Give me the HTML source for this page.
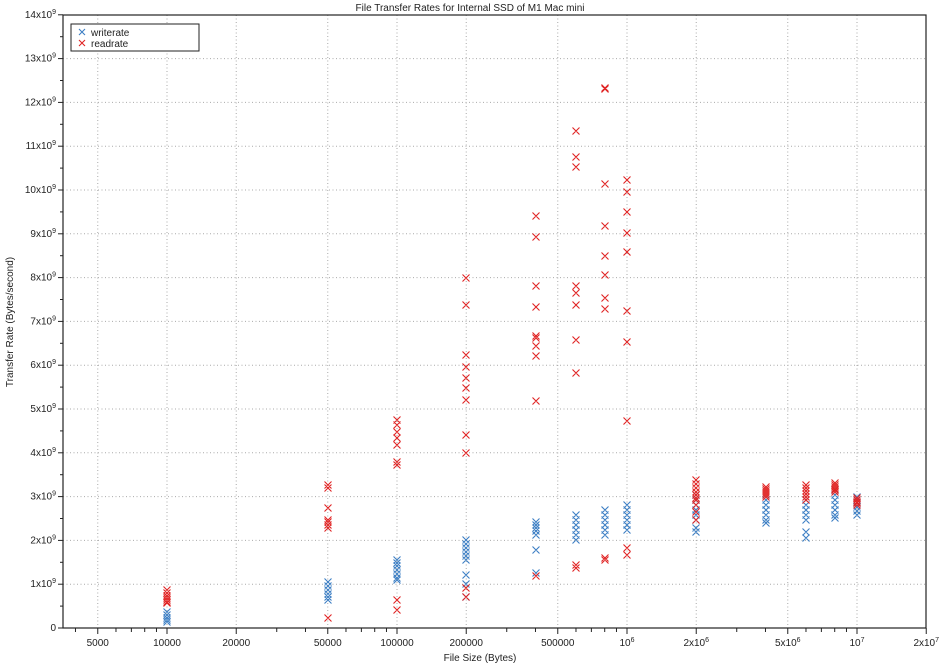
<!DOCTYPE html>
<html><head><meta charset="utf-8"><style>
body{margin:0;background:#fff}
svg{display:block;font-family:"Liberation Sans",sans-serif}
</style></head><body>
<svg id="s" width="940" height="666" xmlns="http://www.w3.org/2000/svg">
<rect width="940" height="666" fill="#fff"/>
<g id="grid" stroke="#aaa" stroke-width="1" stroke-dasharray="1,2.5"></g>
<g id="ticks" stroke="#222" stroke-width="1"></g>
<g id="lbl" font-size="10" fill="#222"></g>
<path id="blue" fill="none" stroke="#3d7fc4" stroke-width="1.1"/>
<path id="red" fill="none" stroke="#e02424" stroke-width="1.1"/>
<rect x="63" y="15" width="863" height="613" fill="none" stroke="#222" stroke-width="1.2"/>
<text x="470" y="11" font-size="10" text-anchor="middle" fill="#222">File Transfer Rates for Internal SSD of M1 Mac mini</text>
<text x="480" y="661" font-size="10" text-anchor="middle" fill="#222">File Size (Bytes)</text>
<text transform="translate(13,322) rotate(-90)" font-size="10" text-anchor="middle" fill="#222">Transfer Rate (Bytes/second)</text>
<rect x="71" y="24" width="128" height="27" fill="#fff" stroke="#222" stroke-width="1"/>
<path d="M79 29l6 6m0-6l-6 6" stroke="#3d7fc4" stroke-width="1.1"/>
<path d="M79 40l6 6m0-6l-6 6" stroke="#e02424" stroke-width="1.1"/>
<text x="91" y="36" font-size="10" fill="#222">writerate</text>
<text x="91" y="47" font-size="10" fill="#222">readrate</text>
</svg>
<script>
var NS="http://www.w3.org/2000/svg";
function X(v){return 167+230*(Math.log10(v)-4);}
function Y(v){return 628-43.8*v;}
var g=document.getElementById('grid'),t=document.getElementById('ticks'),l=document.getElementById('lbl');
function line(p,x1,y1,x2,y2){var e=document.createElementNS(NS,'line');e.setAttribute('x1',x1);e.setAttribute('y1',y1);e.setAttribute('x2',x2);e.setAttribute('y2',y2);p.appendChild(e);}
function txt(x,y,html,anchor){var e=document.createElementNS(NS,'text');e.setAttribute('x',x);e.setAttribute('y',y);e.setAttribute('text-anchor',anchor);e.innerHTML=html;l.appendChild(e);}
for(var i=0;i<=14;i++){var y=Y(i);if(i>0&&i<14)line(g,63,y,926,y);line(t,58,y,63,y);
 txt(56,y+3,i==0?'0':i+'x10<tspan dy="-4" font-size="7">9</tspan>','end');
 if(i<14){line(t,60,Y(i+0.5),63,Y(i+0.5));}}
var maj=[[5000,'5000'],[10000,'10000'],[20000,'20000'],[50000,'50000'],[100000,'100000'],[200000,'200000'],[500000,'500000'],[1e6,'10<tspan dy="-4" font-size="7">6</tspan>'],[2e6,'2x10<tspan dy="-4" font-size="7">6</tspan>'],[5e6,'5x10<tspan dy="-4" font-size="7">6</tspan>'],[1e7,'10<tspan dy="-4" font-size="7">7</tspan>'],[2e7,'2x10<tspan dy="-4" font-size="7">7</tspan>']];
maj.forEach(function(m){var x=X(m[0]);if(m[0]<2e7)line(g,x,15,x,628);line(t,x,628,x,634);txt(x,646,m[1],'middle');});
[4000,6000,7000,8000,9000,30000,40000,60000,70000,80000,90000,300000,400000,600000,700000,800000,900000,3e6,4e6,6e6,7e6,8e6,9e6].forEach(function(v){var x=X(v);line(t,x,628,x,632);});
var xs={a:167,b:328,c:397,d:466,e:536,f:576,g:605,h:627,i:696,j:766,k:806,l:835,m:857};
var red={a:[590,593,596,598,600,602,603],b:[485,488,508,520,522,525,528,618],c:[420,425,432,438,445,462,465,600,610],d:[278,305,355,367,378,388,400,435,453,588,597],e:[216,237,286,307,336,338,346,356,401,576],f:[131,157,167,286,293,305,340,373,565,568],g:[88,89,184,226,256,275,298,309,558,560],h:[180,192,212,233,252,311,342,421,548,555],i:[480,484,488,492,495,498,500,505,512,520],j:[487,489,491,493,495,497],k:[485,488,491,494,497,500],l:[483,485,487,489,490,492],m:[498,500,502,503,505]};
var blue={a:[612,615,618,620,622],b:[582,586,590,594,597,600],c:[560,563,566,570,574,578,580],d:[540,544,548,552,556,560,575,584,597],e:[522,525,528,531,535,550,573],f:[515,520,525,530,535,540],g:[510,515,520,525,530,535],h:[505,510,515,520,525,530],i:[495,500,505,510,515,520,528,532],j:[500,505,510,515,520,523],k:[500,505,510,515,520,532,538],l:[490,495,500,505,510,515,518],m:[497,500,503,507,511,515]};
function path(d){var s='';for(var k in d){var x=xs[k];d[k].forEach(function(y){s+='M'+(x-3.5)+' '+(y-3.5)+'l7 7m0-7l-7 7';});}return s;}
document.getElementById('blue').setAttribute('d',path(blue));
document.getElementById('red').setAttribute('d',path(red));
</script>
</body></html>
